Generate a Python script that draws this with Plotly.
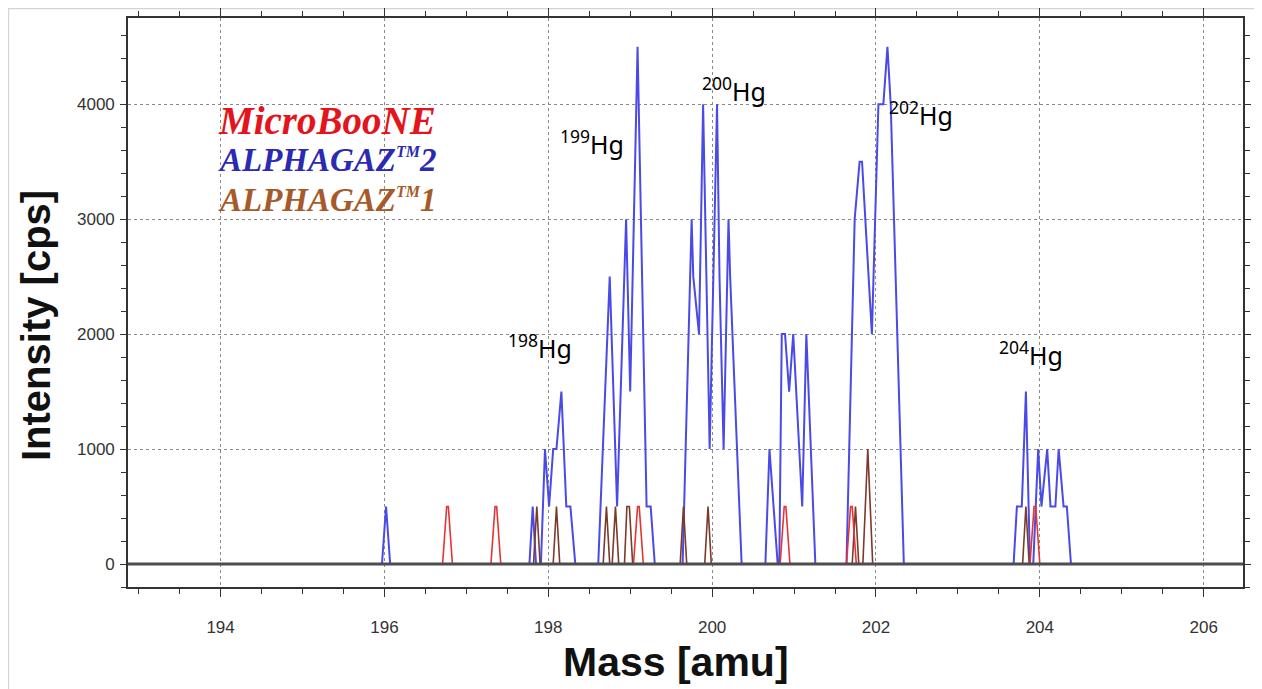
import plotly.graph_objects as go

# ---------------- data ----------------
# ALPHAGAZ(TM)2 trace vertices (blue)
blue_mass = [195.97, 196.02, 196.07,
             197.77, 197.81, 197.85,
             197.91, 197.96, 198.01, 198.06, 198.10, 198.16, 198.22, 198.27, 198.33,
             198.61, 198.75, 198.84, 198.95, 199.00, 199.09, 199.20, 199.25, 199.30,
             199.64, 199.75, 199.77, 199.84, 199.89, 199.97, 200.06, 200.09, 200.14, 200.20, 200.22, 200.36,
             200.65, 200.70, 200.80,
             200.82, 200.85, 200.89, 200.94, 200.99, 201.10, 201.15, 201.26,
             201.64, 201.74, 201.80, 201.83, 201.95, 202.03, 202.09, 202.14, 202.18, 202.34,
             203.68, 203.72, 203.78, 203.83, 203.88,
             203.92, 203.98, 204.02, 204.09, 204.13, 204.19, 204.23, 204.29, 204.33, 204.38]
blue_int = [0, 500, 0,
            0, 500, 0,
            0, 1000, 500, 1000, 1000, 1500, 500, 500, 0,
            0, 2500, 500, 3000, 1500, 4500, 500, 500, 0,
            0, 3000, 2500, 2000, 4000, 1000, 4000, 2500, 1000, 3000, 2500, 0,
            0, 1000, 0,
            0, 2000, 2000, 1500, 2000, 500, 2000, 0,
            0, 3000, 3500, 3500, 2000, 4000, 4000, 4500, 4000, 0,
            0, 500, 500, 1500, 0,
            0, 1000, 500, 1000, 500, 500, 1000, 500, 500, 0]

# ALPHAGAZ(TM)1 trace vertices (brown)
brown_mass = [197.82, 197.86, 197.90,
              198.06, 198.10, 198.14,
              198.67, 198.71, 198.75,
              198.78, 198.82, 198.86,
              198.93, 198.96, 198.99, 199.03,
              199.61, 199.65, 199.69,
              199.91, 199.95, 199.99,
              201.71, 201.75, 201.79,
              201.84, 201.90, 201.96,
              203.79, 203.83, 203.87]
brown_int = [0, 500, 0,
             0, 500, 0,
             0, 500, 0,
             0, 500, 0,
             0, 500, 500, 0,
             0, 500, 0,
             0, 500, 0,
             0, 500, 0,
             0, 1000, 0,
             0, 500, 0]

# MicroBooNE trace vertices (red)
red_mass = [196.71, 196.76, 196.78, 196.83,
            197.30, 197.35, 197.37, 197.42,
            199.04, 199.09, 199.11, 199.16,
            200.83, 200.88, 200.90, 200.95,
            201.64, 201.69, 201.71, 201.76,
            203.88, 203.93, 203.95, 204.00]
red_int = [0, 500, 500, 0,
           0, 500, 500, 0,
           0, 500, 500, 0,
           0, 500, 500, 0,
           0, 500, 500, 0,
           0, 500, 500, 0]

x_ticks = [194, 196, 198, 200, 202, 204, 206]
y_ticks = [0, 1000, 2000, 3000, 4000]
x_title = "Mass [amu]"
y_title = "Intensity [cps]"
TM = "<sup><span style='font-size:16px'>TM</span></sup>"
series_names = ["MicroBooNE", "ALPHAGAZ" + TM + "2", "ALPHAGAZ" + TM + "1"]
isotope_labels = ["<sup>198</sup>Hg", "<sup>199</sup>Hg", "<sup>200</sup>Hg",
                  "<sup>202</sup>Hg", "<sup>204</sup>Hg"]

# ---------------- layout geometry ----------------
# the page body adds an 8 px offset, so the figure is 8 px smaller than the window
OFF = 8
W, H = 1262 - OFF, 689 - OFF
L, R, T, B = 128 - OFF, 19, 18 - OFF, 102
PW, PH = W - L - R, H - T - B
X_RANGE = [192.87, 206.48]
Y_RANGE = [-200, 4750]


def xp(px):  # screen pixel -> paper x
    return (px - OFF - L) / PW


def yp(py):  # screen pixel -> paper y
    return (H - B - (py - OFF)) / PH


BLUE_LINE = "#4a4ae6"
BROWN_LINE = "#7b3a2c"
RED_LINE = "#e43434"

fig = go.Figure()
fig.add_trace(go.Scatter(x=blue_mass, y=blue_int, mode="lines",
                         line=dict(color=BLUE_LINE, width=2), showlegend=False))
fig.add_trace(go.Scatter(x=brown_mass, y=brown_int, mode="lines",
                         line=dict(color=BROWN_LINE, width=1.6), showlegend=False))
fig.add_trace(go.Scatter(x=red_mass, y=red_int, mode="lines",
                         line=dict(color=RED_LINE, width=1.6), showlegend=False))

tickfont = dict(family="Liberation Sans", size=17, color="#333333")

fig.update_layout(
    width=W, height=H,
    margin=dict(l=L, r=R, t=T, b=B, autoexpand=False),
    paper_bgcolor="white", plot_bgcolor="white",
    showlegend=False,
    xaxis=dict(
        range=X_RANGE, tickvals=x_ticks, ticktext=[str(v) for v in x_ticks],
        automargin=False,
        ticks="outside", ticklen=8, tickwidth=1.3, tickcolor="#333",
        minor=dict(dtick=0.5, tick0=194, ticks="outside", ticklen=5, tickwidth=1.2,
                   tickcolor="#333", showgrid=False),
        showgrid=True, gridcolor="#8a8a8a", gridwidth=1.4, griddash="dot",
        zeroline=False, showline=True, linecolor="#333", linewidth=1.6,
        mirror="allticks", tickfont=tickfont, ticklabelstandoff=16,
    ),
    yaxis=dict(
        range=Y_RANGE, tickvals=y_ticks, ticktext=[str(v) for v in y_ticks],
        automargin=False,
        ticks="outside", ticklen=6, tickwidth=1.3, tickcolor="#333",
        minor=dict(dtick=200, tick0=0, ticks="outside", ticklen=5, tickwidth=1.2,
                   tickcolor="#333", showgrid=False),
        showgrid=True, gridcolor="#8a8a8a", gridwidth=1.4, griddash="dot",
        zeroline=False, showline=True, linecolor="#333", linewidth=1.6,
        mirror="allticks", tickfont=tickfont, ticklabelstandoff=2,
    ),
    # overlay axes only to give the "crossing" tick marks seen in the reference
    xaxis2=dict(range=X_RANGE, overlaying="x", anchor="y", side="bottom",
                automargin=False,
                showticklabels=False, showgrid=False, zeroline=False,
                tickvals=x_ticks, ticks="inside", ticklen=6, tickwidth=1.3, tickcolor="#333",
                minor=dict(dtick=0.5, tick0=194, ticks="inside", ticklen=5,
                           tickwidth=1.2, tickcolor="#333"),
                mirror="allticks", showline=False),
    yaxis2=dict(range=Y_RANGE, overlaying="y", anchor="x", side="left",
                automargin=False,
                showticklabels=False, showgrid=False, zeroline=False,
                tickvals=y_ticks, ticks="inside", ticklen=6, tickwidth=1.3, tickcolor="#333",
                minor=dict(dtick=200, tick0=0, ticks="inside", ticklen=5,
                           tickwidth=1.2, tickcolor="#333"),
                showline=False),
)

# axis titles placed as in the reference
fig.add_annotation(text=x_title, xref="paper", yref="paper", x=xp(676), y=yp(662),
                   xanchor="center", yanchor="middle", showarrow=False,
                   font=dict(family="Liberation Sans", size=41, color="#111", weight="bold"))
fig.add_annotation(text=y_title, xref="paper", yref="paper", x=xp(36), y=yp(326),
                   xanchor="center", yanchor="middle", showarrow=False, textangle=-90,
                   font=dict(family="Liberation Sans", size=40, color="#111", weight="bold"))

# thick zero baseline on top of traces
fig.add_shape(type="line", xref="x", yref="y", x0=X_RANGE[0], x1=X_RANGE[1], y0=0, y1=0,
              line=dict(color="#4d4d4d", width=3), layer="above")

# light outer border of the picture
fig.add_shape(type="rect", xref="paper", yref="paper",
              x0=xp(8.6), x1=xp(1257), y0=yp(720), y1=yp(8.6),
              line=dict(color="#d4d4d4", width=1.2), layer="below")

# legend-like coloured labels
legend_colors = ["#e4141c", "#2a2ab2", "#a65a2a"]
legend_sizes = [39, 33, 33]
legend_y = [120, 160, 200]
for name, col, sz, py in zip(series_names, legend_colors, legend_sizes, legend_y):
    fig.add_annotation(text=name, xref="paper", yref="paper", x=xp(216), y=yp(py),
                       xanchor="left", yanchor="middle", showarrow=False,
                       font=dict(family="Liberation Serif", size=sz, color=col,
                                 weight="bold", style="italic"))

# isotope labels
iso_pos = [(540, 347), (592, 142), (734, 90), (921, 113), (1031, 353)]
for txt, (px, py) in zip(isotope_labels, iso_pos):
    fig.add_annotation(text=txt, xref="paper", yref="paper", x=xp(px), y=yp(py),
                       xanchor="center", yanchor="middle", showarrow=False,
                       font=dict(family="Noto Sans", size=25, color="black"))

fig.write_html("out.html")
